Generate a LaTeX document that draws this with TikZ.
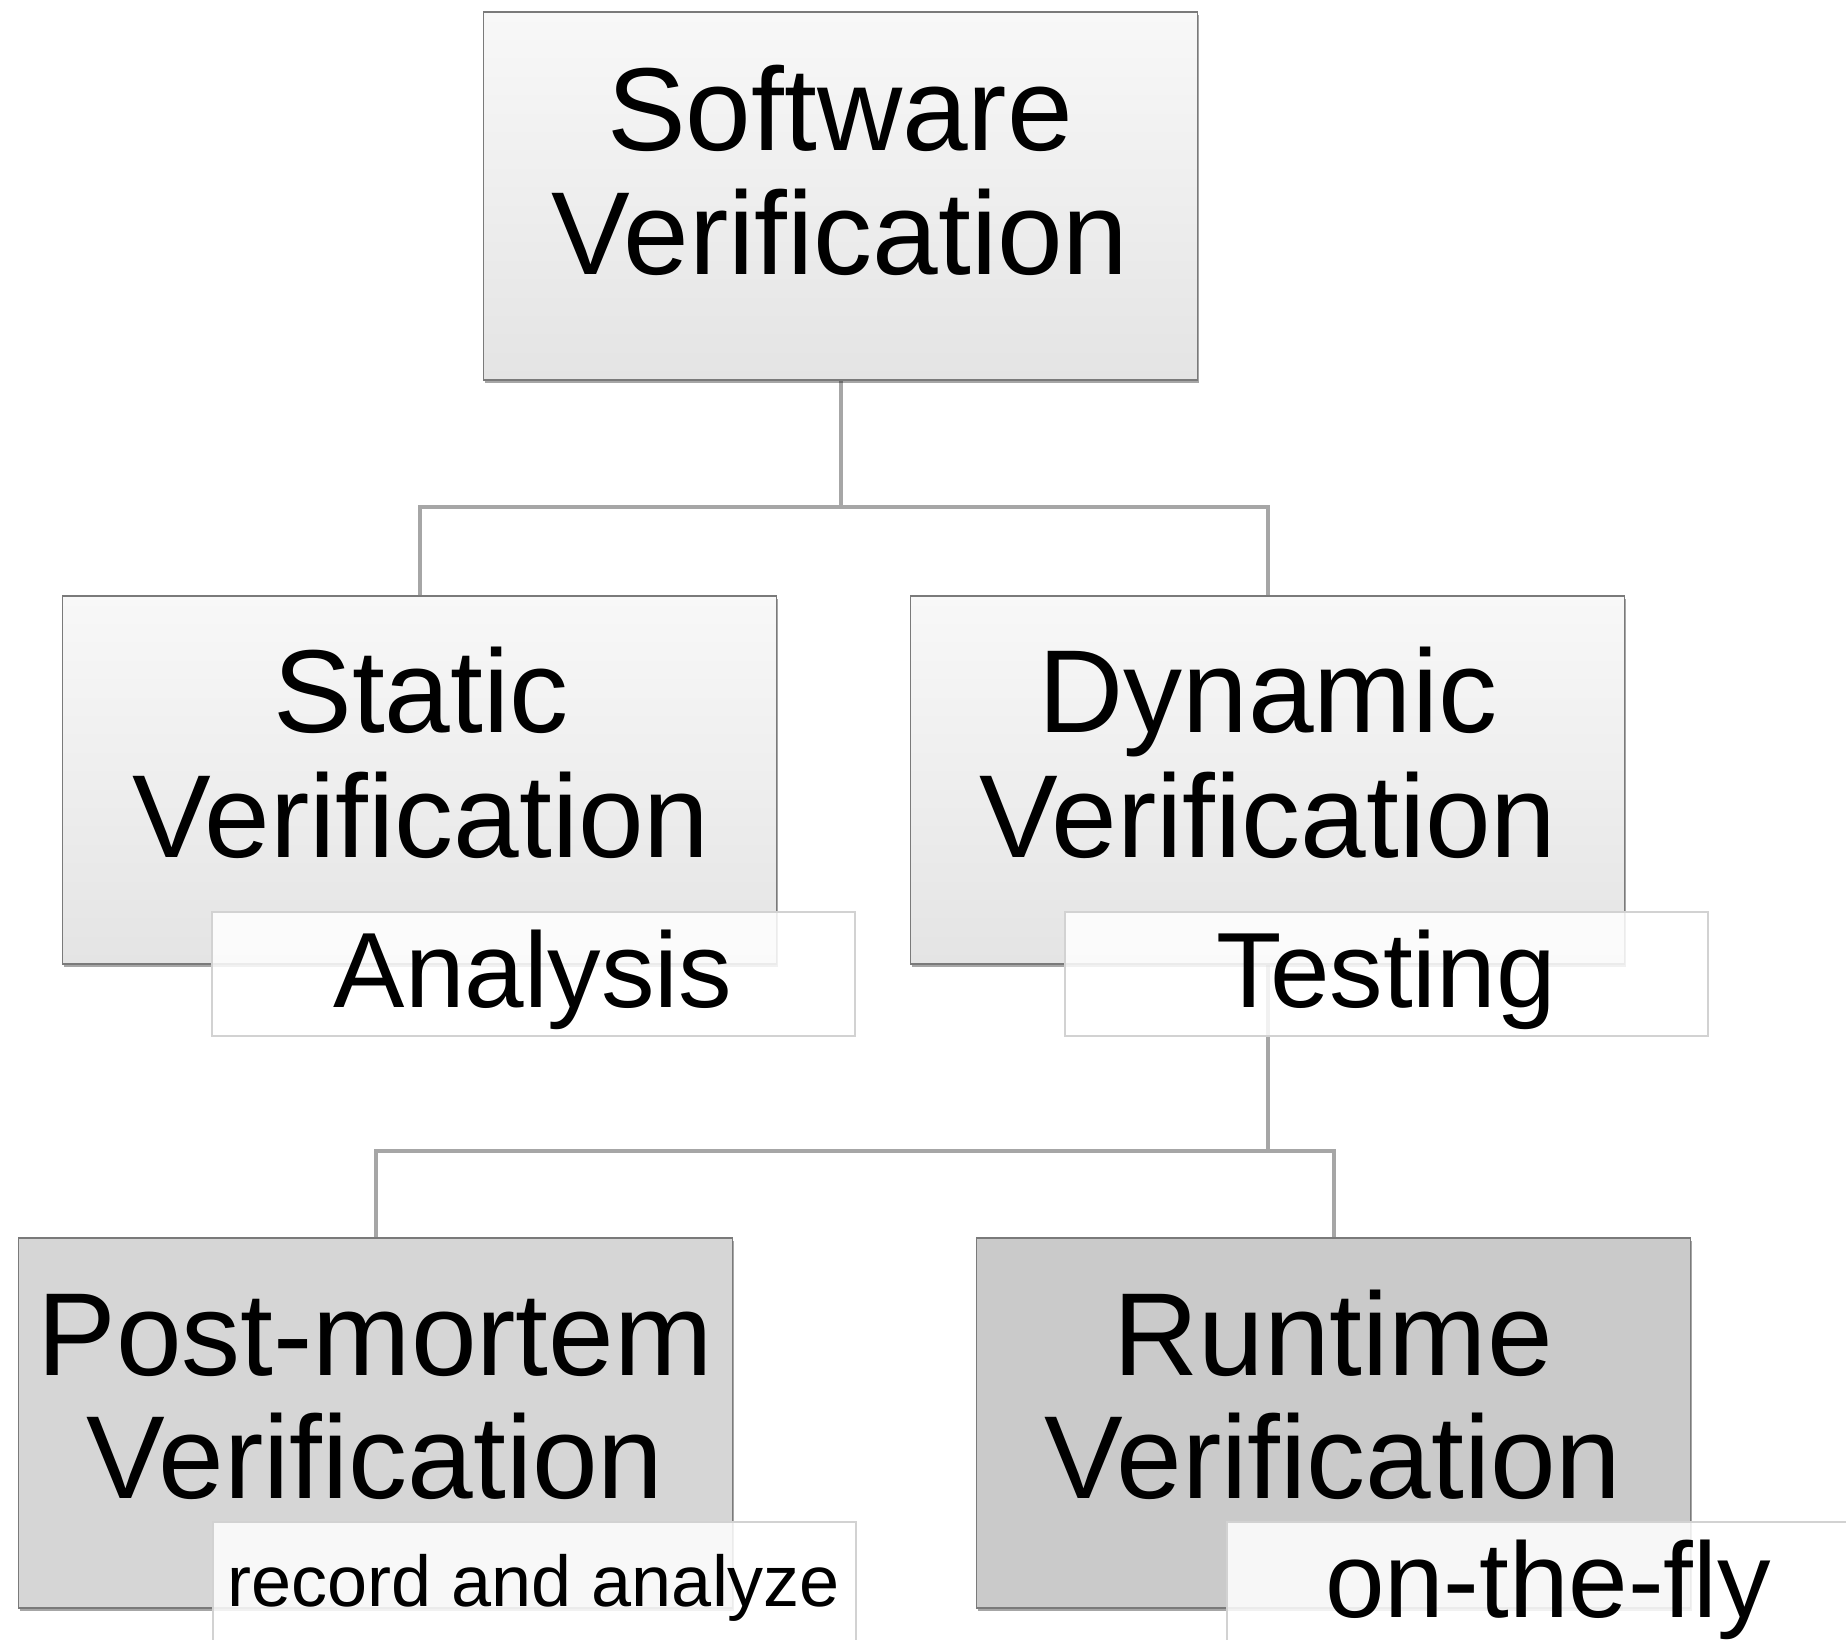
\documentclass[tikz,border=0pt]{standalone}
\usepackage{fontspec}
\setmainfont{Liberation Sans}
\usetikzlibrary{shadows}
\definecolor{boxline}{HTML}{7A7A7A}
\definecolor{conn}{HTML}{A6A6A6}
\definecolor{lblline}{HTML}{D2D2D2}
\definecolor{gtop}{HTML}{F8F8F8}
\definecolor{gbot}{HTML}{E4E4E4}
\definecolor{pmfill}{HTML}{D6D6D6}
\definecolor{rtfill}{HTML}{CACACA}
\tikzset{
  box/.style={draw=boxline, line width=1.6pt, rectangle, inner sep=0pt,
    drop shadow={shadow xshift=1.5pt, shadow yshift=-3pt, opacity=0.35, fill=black}},
  gradbox/.style={box, top color=gtop, bottom color=gbot, minimum width=714pt, minimum height=368pt},
  flatbox/.style={box, minimum width=714pt, minimum height=370pt},
  lbl/.style={draw=lblline, line width=1.3pt, fill=white, fill opacity=0.85, draw opacity=1,
    rectangle, inner sep=0pt, minimum width=643pt, minimum height=124pt},
  bigtxt/.style={anchor=base, inner sep=0pt, font=\fontsize{118}{125}\selectfont},
  midtxt/.style={anchor=base, inner sep=0pt, font=\fontsize{107}{110}\selectfont},
  smalltxt/.style={anchor=base, inner sep=0pt, font=\fontsize{72}{80}\selectfont},
  connector/.style={draw=conn, line width=4pt}
}
\begin{document}
\begin{tikzpicture}[x=1pt,y=-1pt]
\useasboundingbox (0,0) rectangle (1846,1639);
\clip (0,0) rectangle (1846,1639);
\fill[white] (0,0) rectangle (1846,1639);
% boxes (positions)
\coordinate (swc) at (840.5,196);
\coordinate (stc) at (419.5,780);
\coordinate (dyc) at (1267.5,780);
\coordinate (pmc) at (375.5,1423);
\coordinate (rtc) at (1333.5,1423);
\coordinate (j1) at (840.5,507);
\coordinate (j2) at (1267.5,1151);
% connectors
\path[connector] (swc) -- (j1);
\path[connector] (j1) -| (stc);
\path[connector] (j1) -| (dyc);
\path[connector] (dyc) -- (j2);
\path[connector] (j2) -| (pmc);
\path[connector] (j2) -| (rtc);
% boxes
\node[gradbox] (sw) at (swc) {};
\node[gradbox] (st) at (stc) {};
\node[gradbox] (dy) at (dyc) {};
\node[flatbox, fill=pmfill] (pm) at (pmc) {};
\node[flatbox, fill=rtfill] (rt) at (rtc) {};
% box texts
\node[bigtxt] (swA) at (840,150) {Software};
\node[bigtxt] (swB) at (840,274) {Verification};
\node[bigtxt] (stA) at (421,732) {Static};
\node[bigtxt] (stB) at (421,857) {Verification};
\node[bigtxt] (dyA) at (1268,732) {Dynamic};
\node[bigtxt] (dyB) at (1268,857) {Verification};
\node[bigtxt] (pmA) at (375,1375) {Post-mortem};
\node[bigtxt] (pmB) at (375,1498) {Verification};
\node[bigtxt] (rtA) at (1333,1375) {Runtime};
\node[bigtxt] (rtB) at (1333,1498) {Verification};
% labels
\node[lbl] (an) at (533.5,974) {};
\node[lbl] (te) at (1386.5,974) {};
\node[lbl] (ra) at (534.5,1584) {};
\node[lbl] (of) at (1548.5,1584) {};
\node[midtxt] (anT) at (533,1007) {Analysis};
\node[midtxt] (teT) at (1386,1007) {Testing};
\node[smalltxt] (raT) at (534,1606) {record and analyze};
\node[midtxt] (ofT) at (1548,1617) {on-the-fly};
\end{tikzpicture}
\end{document}
